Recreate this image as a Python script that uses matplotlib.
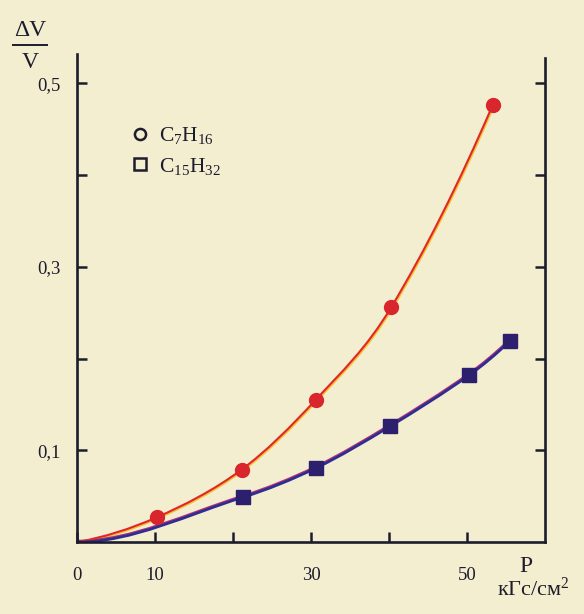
import numpy as np
import matplotlib.pyplot as plt
from matplotlib.path import Path
from matplotlib.patches import PathPatch
from matplotlib.lines import Line2D
import matplotlib.transforms as mtransforms

plt.rcParams['font.family'] = ['Liberation Serif', 'DejaVu Serif']
plt.rcParams['mathtext.fontset'] = 'custom'
plt.rcParams['mathtext.rm'] = 'Liberation Serif'
plt.rcParams['mathtext.it'] = 'Liberation Serif'

# C7H16 (red circles) и C15H32 (blue squares), кривые идут из начала координат
heptane_p = [10.2, 21.1, 30.6, 40.3, 53.3]
heptane_dv = [0.027, 0.079, 0.155, 0.256, 0.476]
pentadecane_p = [21.3, 30.7, 40.1, 50.3, 55.5]
pentadecane_dv = [0.049, 0.081, 0.126, 0.182, 0.219]

x_ticks = [0, 10, 20, 30, 40, 50]
x_tick_labels = ['0', '10', '', '30', '', '50']
y_ticks = [0.1, 0.2, 0.3, 0.4, 0.5]
y_tick_labels = ['0,1', '', '0,3', '', '0,5']

bg = '#f4eed0'
ink = '#1c1c2c'


def smooth_path(xs, ys, start_slope=None):
    # cubic hermite in x through the points, drawn as bezier segments
    xs = np.asarray(xs, float)
    ys = np.asarray(ys, float)
    n = len(xs)
    m = np.zeros(n)
    for i in range(1, n - 1):
        m[i] = (ys[i + 1] - ys[i - 1]) / (xs[i + 1] - xs[i - 1])
    sec0 = (ys[1] - ys[0]) / (xs[1] - xs[0])
    m[0] = 2 * sec0 - m[1] if start_slope is None else start_slope
    secn = (ys[-1] - ys[-2]) / (xs[-1] - xs[-2])
    m[-1] = 2 * secn - m[-2]
    verts = [(xs[0], ys[0])]
    codes = [Path.MOVETO]
    for i in range(n - 1):
        dx = xs[i + 1] - xs[i]
        verts += [(xs[i] + dx / 3, ys[i] + m[i] * dx / 3),
                  (xs[i + 1] - dx / 3, ys[i + 1] - m[i + 1] * dx / 3),
                  (xs[i + 1], ys[i + 1])]
        codes += [Path.CURVE4] * 3
    return Path(verts, codes)


fig = plt.figure(figsize=(5.84, 6.14), dpi=100, facecolor=bg)
ax = fig.add_axes([0.132, 0.117, 0.801, 0.7955])
ax.set_facecolor(bg)

red_path = smooth_path([0] + heptane_p, [0] + heptane_dv)
blue_path = smooth_path([0] + pentadecane_p, [0] + pentadecane_dv, start_slope=0.0)

# print misregistration ghosts
ghost_y = mtransforms.offset_copy(ax.transData, fig=fig, x=1.0, y=-1.0, units='dots')
ghost_b = mtransforms.offset_copy(ax.transData, fig=fig, x=-0.5, y=1.2, units='dots')
ax.add_patch(PathPatch(red_path, fill=False, ec='#f2c230', lw=1.6, transform=ghost_y))
ax.add_patch(PathPatch(blue_path, fill=False, ec='#b0307a', lw=1.8, transform=ghost_b))
ax.add_patch(PathPatch(red_path, fill=False, ec='#e0262a', lw=1.5))
ax.add_patch(PathPatch(blue_path, fill=False, ec='#2e2e92', lw=2.0))

ax.plot(heptane_p, heptane_dv, 'o', color='#d9252c', ms=10, mec='#d9252c', zorder=5)
ax.plot(pentadecane_p, pentadecane_dv, 's', color='#2b1f6e', ms=9.5, mec='#2b1f6e', zorder=5)

ax.set_xlim(0, 60)
ax.set_ylim(0, 0.532)

for s in ['left', 'right', 'bottom']:
    ax.spines[s].set_linewidth(1.9)
    ax.spines[s].set_color(ink)
ax.spines['top'].set_visible(False)
ax.spines['right'].set_bounds(0, 0.527)

ax.set_xticks(x_ticks)
ax.set_xticklabels(x_tick_labels)
ax.set_yticks(y_ticks)
ax.set_yticklabels(y_tick_labels)
ax.tick_params(axis='both', direction='in', length=7, width=1.8, color=ink,
               labelsize=13.5, labelcolor=ink)
ax.tick_params(axis='x', pad=18)
ax.tick_params(axis='y', pad=12, right=True)

handles = [Line2D([], [], ls='none', marker='o', ms=8, mfc='none', mec=ink, mew=1.8),
           Line2D([], [], ls='none', marker='s', ms=8, mfc='none', mec=ink, mew=1.8)]
ax.legend(handles, ['C$_7$H$_{16}$', 'C$_{15}$H$_{32}$'], loc='upper left',
          bbox_to_anchor=(0.088, 0.876), frameon=False, fontsize=15.5,
          handlelength=1.0, handletextpad=0.4, labelspacing=0.45, borderpad=0,
          labelcolor=ink)

fig.text(526 / 584, 1 - 567 / 614, 'P', ha='center', va='center', fontsize=17, color=ink)
fig.text(533 / 584, 1 - 589 / 614, 'кГс/см$^2$', ha='center', va='center', fontsize=16, color=ink)

fig.text(30 / 584, 1 - 31 / 614, 'ΔV', ha='center', va='center', fontsize=17, color=ink)
fig.add_artist(Line2D([13 / 584, 47 / 584], [1 - 45 / 614, 1 - 45 / 614], color=ink, lw=1.4))
fig.text(30 / 584, 1 - 62 / 614, 'V', ha='center', va='center', fontsize=17, color=ink)

fig.savefig('out.png', dpi=100, facecolor=bg)
